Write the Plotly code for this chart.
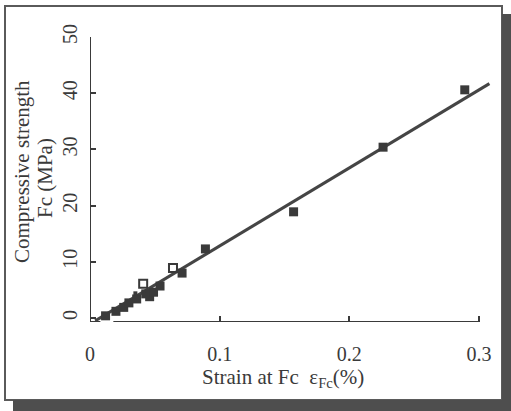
import plotly.graph_objects as go

# ---- data ----
strain = [0.012, 0.020, 0.026, 0.030, 0.036, 0.043, 0.046, 0.049, 0.054, 0.071, 0.089, 0.157, 0.226, 0.289]
strength = [0.4, 1.2, 1.9, 2.7, 3.4, 4.3, 3.8, 4.6, 5.7, 8.0, 12.3, 18.9, 30.4, 40.6]
open_strain = [0.041, 0.064]
open_strength = [6.1, 8.9]
dot_strain = [0.035]
dot_strength = [4.4]
fit_strain = [0.004, 0.308]
fit_strength = [-0.5, 41.7]

x_ticks = [0, 0.1, 0.2, 0.3]
x_ticktext = ["0", "0.1", "0.2", "0.3"]
y_ticks = [0, 10, 20, 30, 40, 50]
y_ticktext = ["0", "10", "20", "30", "40", "50"]

FONT = "Liberation Serif"
INK = "#3a3a3a"
W, H = 511, 411
L, R, T, B = 90, 19, 37, 89
PW, PH = W - L - R, H - T - B


def px(xp):
    return (xp - L) / PW


def py(yp):
    return (H - B - yp) / PH


fig = go.Figure()
fig.add_trace(go.Scatter(x=fit_strain, y=fit_strength, mode="lines",
                         line=dict(color="#454545", width=3), showlegend=False))
fig.add_trace(go.Scatter(x=strain, y=strength, mode="markers",
                         marker=dict(symbol="square", size=9, color=INK), showlegend=False))
fig.add_trace(go.Scatter(x=open_strain, y=open_strength, mode="markers",
                         marker=dict(symbol="square-open", size=8, color=INK, line=dict(width=2)),
                         showlegend=False))
fig.add_trace(go.Scatter(x=dot_strain, y=dot_strength, mode="markers",
                         marker=dict(symbol="square", size=4, color=INK), showlegend=False))

shapes = []
# axis lines (broken style as in the original)
shapes.append(dict(type="line", xref="x", yref="y", x0=0, x1=0, y0=-0.7, y1=50,
                   line=dict(color=INK, width=2)))
shapes.append(dict(type="line", xref="x", yref="y", x0=0, x1=0.008, y0=-0.7, y1=-0.7,
                   line=dict(color=INK, width=2)))
shapes.append(dict(type="line", xref="x", yref="y", x0=0.018, x1=0.3, y0=-0.7, y1=-0.7,
                   line=dict(color=INK, width=2)))
# frame and shadow
shapes.append(dict(type="rect", xref="paper", yref="paper", x0=px(5), x1=px(502), y0=py(6), y1=py(400),
                   line=dict(color="#5a5a5a", width=2), fillcolor="rgba(0,0,0,0)", layer="below"))
shapes.append(dict(type="rect", xref="paper", yref="paper", x0=px(502), x1=px(512), y0=py(14), y1=py(412),
                   line=dict(width=0), fillcolor="#4e4e4e"))
shapes.append(dict(type="rect", xref="paper", yref="paper", x0=px(13), x1=px(512), y0=py(400), y1=py(411),
                   line=dict(width=0), fillcolor="#4e4e4e"))

annotations = [
    dict(text="Compressive strength", xref="paper", yref="paper", x=px(22), y=py(172),
         showarrow=False, textangle=-90, font=dict(family=FONT, size=21, color=INK),
         xanchor="center", yanchor="middle"),
    dict(text="Fc (MPa)", xref="paper", yref="paper", x=px(45), y=py(178),
         showarrow=False, textangle=-90, font=dict(family=FONT, size=21, color=INK),
         xanchor="center", yanchor="middle"),
    dict(text="Strain at Fc  ε<sub>Fc</sub>(%)", xref="paper", yref="paper", x=px(283), y=py(378),
         showarrow=False, font=dict(family=FONT, size=21, color=INK),
         xanchor="center", yanchor="middle"),
]

fig.update_layout(
    width=W, height=H,
    margin=dict(l=L, r=R, t=T, b=B, autoexpand=False),
    paper_bgcolor="white", plot_bgcolor="white",
    shapes=shapes, annotations=annotations,
    font=dict(family=FONT, size=20, color=INK),
    xaxis=dict(range=[0, 0.31], tickvals=x_ticks, ticktext=x_ticktext, automargin=False,
               ticks="inside", ticklen=6, tickwidth=2, tickcolor=INK,
               showline=False, showgrid=False, zeroline=False,
               ticklabelstandoff=18, tickfont=dict(family=FONT, size=20, color=INK)),
    yaxis=dict(range=[-0.7, 50], tickvals=y_ticks, ticktext=y_ticktext, automargin=False,
               ticks="inside", ticklen=6, tickwidth=2, tickcolor=INK,
               showline=False, showgrid=False, zeroline=False, tickangle=-90,
               ticklabelstandoff=8, tickfont=dict(family=FONT, size=20, color=INK)),
)

fig.write_html("out.html", config={"displayModeBar": False},
               post_script="document.body.style.margin='0';")
